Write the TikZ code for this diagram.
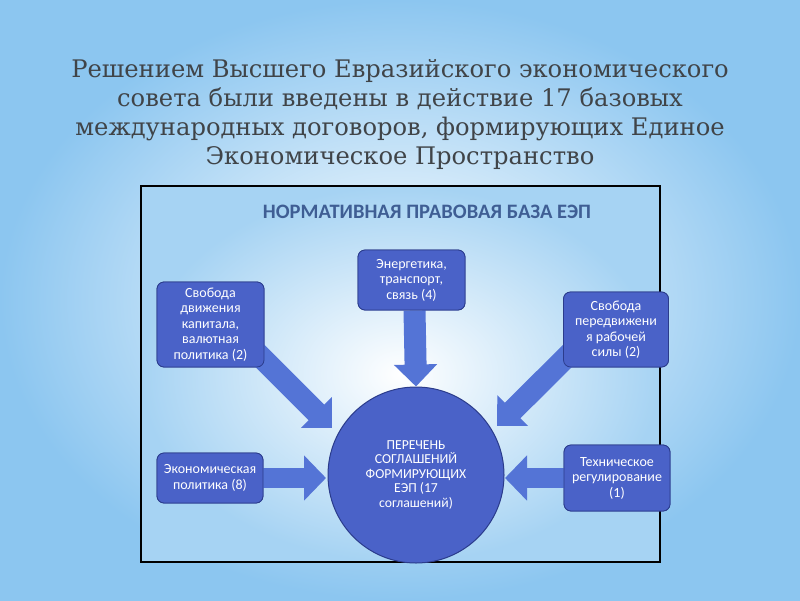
\documentclass[tikz,border=0pt]{standalone}
\usepackage{fontspec}
\setmainfont{DejaVu Serif}
\newfontfamily\boxfont{Carlito}
\usetikzlibrary{arrows.meta,calc}
\definecolor{bgblue}{HTML}{8CC6F0}
\definecolor{framebg}{HTML}{A6D3F3}
\definecolor{boxfill}{HTML}{4A62C8}
\definecolor{boxedge}{HTML}{2B3C8C}
\definecolor{arrowfill}{HTML}{5474D6}
\definecolor{titlegray}{HTML}{404448}
\definecolor{headblue}{HTML}{3F5E94}
\tikzset{
  infobox/.style={draw=boxedge, line width=0.8pt, fill=boxfill, rounded corners=7pt,
    text=white, align=center, font=\boxfont\fontsize{14}{15.5}\selectfont,
    inner sep=0pt, minimum width=#1},
  blockarrow/.style={draw=arrowfill, line width=22pt,
    -{Triangle[width=42pt,length=22pt]}},
  flatarrow/.style={draw=arrowfill, line width=20pt,
    -{Triangle[width=44pt,length=22pt]}},
  titletext/.style={text=titlegray, align=center, font=\fontsize{24.2}{29}\selectfont},
}
\begin{document}
\begin{tikzpicture}[x=1pt,y=-1pt]
\useasboundingbox (0,0) rectangle (800,600);
\shade[outer color=bgblue, inner color=white] (0,0) rectangle (800,600);
\node[titletext] (title) at (400,114) {Решением Высшего Евразийского экономического\\совета были введены в действие 17 базовых\\международных договоров, формирующих Единое\\Экономическое Пространство};
\shade[outer color=framebg, inner color=white] (141,186) rectangle (660,562);
\draw[black, line width=1.6pt] (141,186) rectangle (660,562);
\node[text=headblue, font=\boxfont\bfseries\fontsize{20.5}{22}\selectfont] (head) at (427,212) {НОРМАТИВНАЯ ПРАВОВАЯ БАЗА ЕЭП};
\coordinate (p1) at (210.5,324.5);
\coordinate (p2) at (411.5,280);
\coordinate (p3) at (616,329.5);
\coordinate (p4) at (210,478);
\coordinate (p5) at (617,478);
\node[infobox=107pt, minimum height=85pt] (b1) at (p1) {};
\node[infobox=107pt, minimum height=60pt] (b2) at (p2) {};
\node[infobox=105pt, minimum height=75pt] (b3) at (p3) {};
\node[infobox=106pt, minimum height=50pt] (b4) at (p4) {};
\node[infobox=106pt, minimum height=66pt] (b5) at (p5) {};
\node[circle, draw=boxedge, line width=1pt, fill=boxfill, minimum size=176pt, inner sep=0pt,
  text=white, align=center, font=\boxfont\fontsize{13.7}{14.5}\selectfont] (c) at (416,475)
  {ПЕРЕЧЕНЬ\\СОГЛАШЕНИЙ\\ФОРМИРУЮЩИХ\\ЕЭП (17\\соглашений)};
\coordinate (t1) at (332,428);
\coordinate (t3) at (497,426);
\coordinate (t4) at (326,478);
\coordinate (t5) at (505,478);
\draw[blockarrow] ([xshift=-9pt,yshift=16pt]b1.south east) -- (t1);
\draw[blockarrow] ([xshift=3pt]b2.south) -- (c.north);
\draw[blockarrow] ([xshift=15pt,yshift=22pt]b3.south west) -- (t3);
\draw[flatarrow] (b4.east) -- (t4);
\draw[flatarrow] (b5.west) -- (t5);
\node[infobox=107pt, minimum height=85pt] (b1t) at (p1) {Свобода\\движения\\капитала,\\валютная\\политика (2)};
\node[infobox=107pt, minimum height=60pt] (b2t) at (p2) {Энергетика,\\транспорт,\\связь (4)};
\node[infobox=105pt, minimum height=75pt] (b3t) at (p3) {Свобода\\передвижени\\я рабочей\\силы (2)};
\node[infobox=106pt, minimum height=50pt] (b4t) at (p4) {Экономическая\\политика (8)};
\node[infobox=106pt, minimum height=66pt] (b5t) at (p5) {Техническое\\регулирование\\(1)};
\end{tikzpicture}
\end{document}
